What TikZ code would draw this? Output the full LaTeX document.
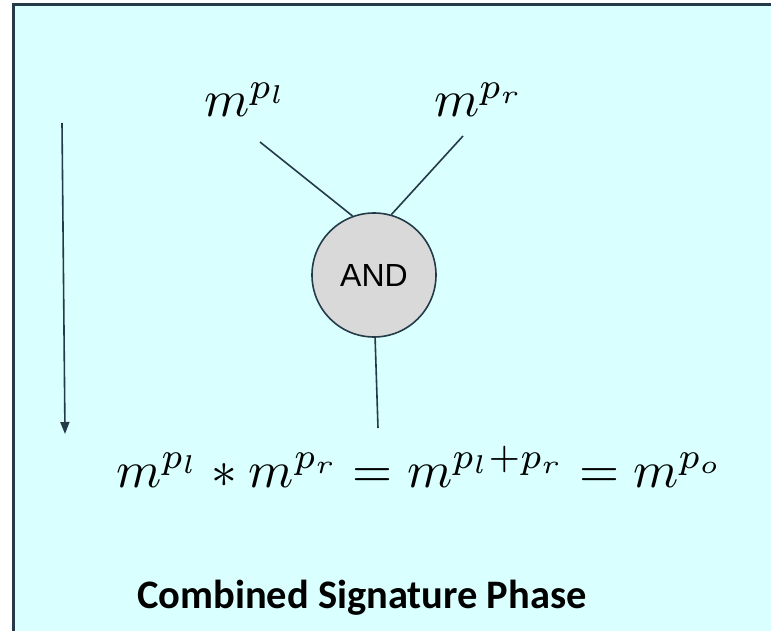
\documentclass[tikz,border=0pt]{standalone}
\usepackage{graphicx}
\usepackage{fontspec}
\newfontfamily\andfont{Liberation Sans}
\newfontfamily\titlefont{Carlito}
\usetikzlibrary{arrows.meta}
\definecolor{bgc}{HTML}{D9FFFF}
\definecolor{ln}{HTML}{243A48}
\definecolor{andfill}{HTML}{D9D9D9}
\newcommand{\bigmath}[1]{\scalebox{5.15}{$#1$}}
\tikzset{
  conn/.style={draw=ln, line width=1.6pt},
  mathlbl/.style={anchor=base west, inner sep=0pt},
  gate/.style={circle, draw=ln, line width=1.6pt, fill=andfill, minimum size=124pt, inner sep=0pt, font=\andfont\fontsize{32}{38}\selectfont},
  frameline/.style={draw=ln, line width=2.5pt}
}
\begin{document}
\begin{tikzpicture}[x=1pt,y=-1pt]
\useasboundingbox (0,0) rectangle (771,631);
\fill[bgc] (14,5) rectangle (771,631);
\draw[frameline] (13.5,631) -- (13.5,4.5) -- (771,4.5);
% arrow
\coordinate (a1) at (62,123);
\coordinate (a2) at (65,434);
\draw[conn, -{Triangle[width=9pt,length=12pt]}] (a1) -- (a2);
% labels
\node[mathlbl] (ml) at (204,117) {\bigmath{m^{p_l}}};
\node[mathlbl] (mr) at (434,117) {\bigmath{m^{p_r}}};
% gate
\node[gate] (and) at (374,275) {AND};
\coordinate (lt) at (260,142);
\coordinate (rt) at (463,136);
\coordinate (bt) at (378,428);
\draw[conn] (lt) -- (and.110);
\draw[conn] (rt) -- (and.74);
\draw[conn] (and.271) -- (bt);
% equation
\node[mathlbl] (eq) at (116,487) {\bigmath{m^{p_l} * m^{p_r} = m^{p_l+p_r} = m^{p_o}}};
% title
\node[anchor=base west, inner sep=0pt, font=\titlefont\bfseries\fontsize{40.5}{48}\selectfont] (title) at (137,608) {Combined Signature Phase};
\end{tikzpicture}
\end{document}
